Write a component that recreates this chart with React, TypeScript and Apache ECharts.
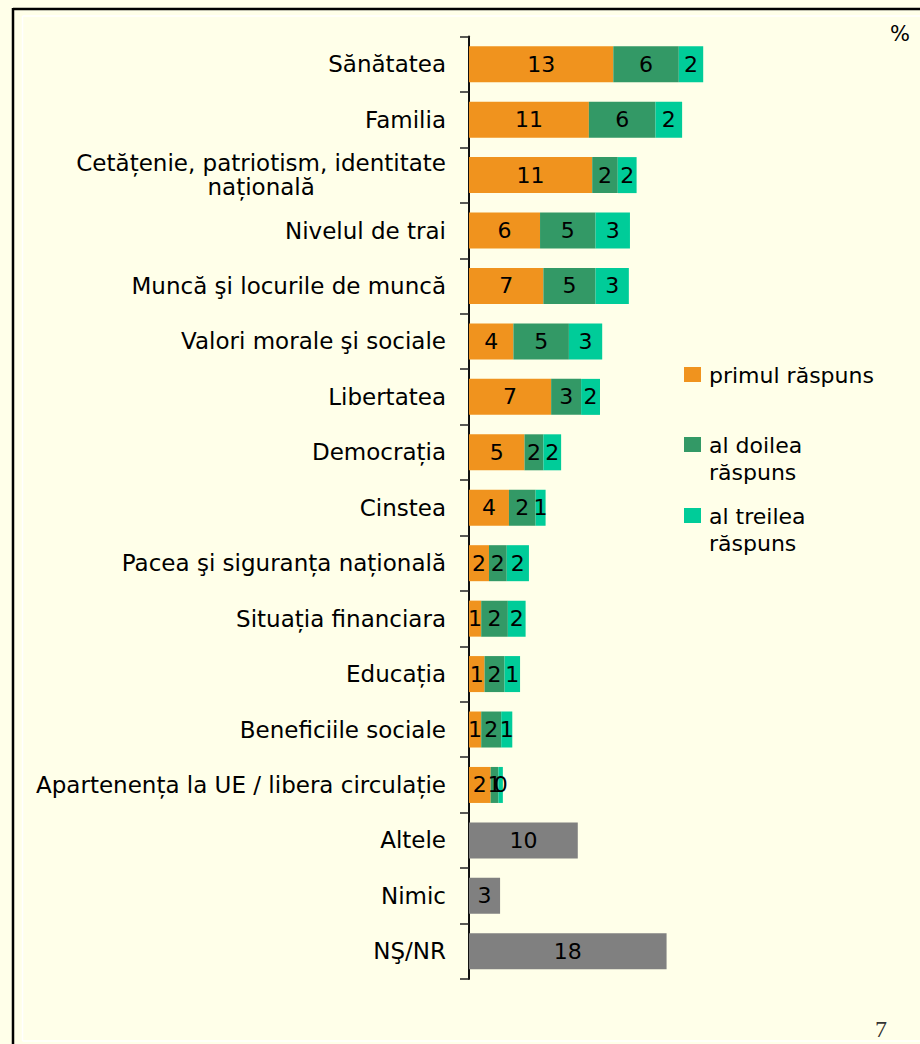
import React, { useEffect, useRef } from "react";
import * as echarts from "echarts";

const categories = [
  "Sănătatea",
  "Familia",
  "Cetățenie, patriotism, identitate\nnațională",
  "Nivelul de trai",
  "Muncă şi locurile de muncă",
  "Valori morale şi sociale",
  "Libertatea",
  "Democrația",
  "Cinstea",
  "Pacea şi siguranța națională",
  "Situația financiara",
  "Educația",
  "Beneficiile sociale",
  "Apartenența la UE / libera circulație",
  "Altele",
  "Nimic",
  "NŞ/NR",
];

const seriesNames = ["primul răspuns", "al doilea\nrăspuns", "al treilea\nrăspuns", "altele"];
const seriesColors = ["#F0931E", "#339966", "#00CC99", "#808080"];

const primul = [13.0, 10.8, 11.1, 6.4, 6.7, 4.0, 7.4, 5.0, 3.6, 1.8, 1.1, 1.4, 1.1, 1.95, null, null, null];
const doilea = [5.9, 6.0, 2.3, 5.0, 4.7, 5.0, 2.7, 1.7, 2.4, 1.6, 2.4, 1.8, 1.8, 0.7, null, null, null];
const treilea = [2.2, 2.4, 1.7, 3.1, 3.0, 3.0, 1.7, 1.6, 0.9, 2.0, 1.6, 1.4, 1.0, 0.4, null, null, null];
const fara = [null, null, null, null, null, null, null, null, null, null, null, null, null, null, 9.8, 2.8, 17.8];

const FONT = "DejaVu Sans";
const BG = "#FFFFE9";

export default function App() {
  const ref = useRef<HTMLDivElement>(null);

  useEffect(() => {
    if (!ref.current) return;
    const chart = echarts.init(ref.current, null, { renderer: "svg" });

    const labelCfg = {
      show: true,
      position: "inside",
      color: "#000",
      fontSize: 22,
      fontFamily: FONT,
      formatter: (p: any) => (p.value == null || p.value === "-" ? "" : String(Math.round(p.value))),
    };

    const dataSets = [primul, doilea, treilea, fara];
    const series = dataSets.map((d, i) => ({
      name: seriesNames[i],
      type: "bar",
      stack: "total",
      barWidth: 36,
      data: d.map((v) => (v == null ? "-" : v)),
      itemStyle: { color: seriesColors[i] },
      label: labelCfg,
    }));

    const legendY = [375, 445, 516];
    const legendGraphics: any[] = [];
    for (let i = 0; i < 3; i++) {
      legendGraphics.push({
        type: "rect",
        shape: { x: 684, y: legendY[i] - 8, width: 17, height: 15 },
        style: { fill: seriesColors[i] },
      });
      legendGraphics.push({
        type: "text",
        x: 709,
        y: legendY[i] - 13.5,
        style: {
          text: seriesNames[i],
          font: `22px "${FONT}"`,
          fill: "#000",
          lineHeight: 27,
          verticalAlign: "top",
          align: "left",
        },
      });
    }

    chart.setOption({
      animation: false,
      backgroundColor: BG,
      grid: { left: 469, top: 36.5, width: 444, height: 942.5, containLabel: false },
      xAxis: { type: "value", min: 0, max: 40, show: false },
      yAxis: {
        type: "category",
        inverse: true,
        data: categories,
        axisLine: { show: true, lineStyle: { color: "#111", width: 2 } },
        axisTick: { show: true, length: 9, lineStyle: { color: "#222", width: 1.5 } },
        axisLabel: {
          margin: 23,
          color: "#000",
          fontSize: 23,
          fontFamily: FONT,
          align: "right",
          lineHeight: 24,
          formatter: (v: string) => {
            const parts = v.split("\n");
            if (parts.length === 1) return `{a|${v}}`;
            return `{a|${parts[0]}}\n{c|${parts[1]}}`;
          },
          rich: {
            a: { fontSize: 23, fontFamily: FONT, color: "#000", lineHeight: 24, align: "right" },
            c: { fontSize: 23, fontFamily: FONT, color: "#000", lineHeight: 24, align: "center" },
          },
        },
        splitLine: { show: false },
      },
      series,
      graphic: [
        { type: "line", shape: { x1: 13, y1: 9, x2: 920, y2: 9 }, style: { stroke: "#000", lineWidth: 2.5 } },
        { type: "line", shape: { x1: 13, y1: 8, x2: 13, y2: 1044 }, style: { stroke: "#000", lineWidth: 2.5 } },
        { type: "line", shape: { x1: 22.5, y1: 16, x2: 920, y2: 16 }, style: { stroke: "#FFFFFF", lineWidth: 1.5 } },
        { type: "line", shape: { x1: 22.5, y1: 16, x2: 22.5, y2: 1041 }, style: { stroke: "#FFFFFF", lineWidth: 1.5 } },
        { type: "line", shape: { x1: 22.5, y1: 1041, x2: 920, y2: 1041 }, style: { stroke: "#FFFFFF", lineWidth: 1.5 } },
        {
          type: "text",
          x: 900,
          y: 34,
          style: { text: "%", font: `21px "${FONT}"`, fill: "#000", align: "center", verticalAlign: "middle" },
        },
        {
          type: "text",
          x: 881,
          y: 1029,
          style: { text: "7", font: `24px "Liberation Serif"`, fill: "#333", align: "center", verticalAlign: "middle" },
        },
        ...legendGraphics,
      ],
    });

    return () => chart.dispose();
  }, []);

  return (
    <div style={{ position: "fixed", left: 0, top: 0, width: 920, height: 1044, background: BG }}>
      <div ref={ref} style={{ width: 920, height: 1044 }} />
    </div>
  );
}
